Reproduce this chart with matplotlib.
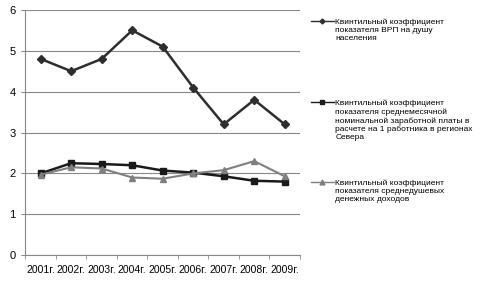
import matplotlib
matplotlib.use('Agg')
import matplotlib.pyplot as plt
from matplotlib.lines import Line2D
from matplotlib.legend_handler import HandlerLine2D

plt.rcParams['font.family'] = ['Liberation Sans Narrow', 'Liberation Sans', 'DejaVu Sans']

years = ['2001г.', '2002г.', '2003г.', '2004г.', '2005г.', '2006г.', '2007г.', '2008г.', '2009г.']
vrp = [4.8, 4.5, 4.8, 5.5, 5.1, 4.1, 3.2, 3.8, 3.2]
zarplata = [2.0, 2.25, 2.23, 2.2, 2.07, 2.02, 1.93, 1.82, 1.8]
dohody = [1.97, 2.15, 2.12, 1.9, 1.87, 2.0, 2.08, 2.3, 1.93]

labels = ['Квинтильный коэффициент\nпоказателя ВРП на душу\nнаселения',
          'Квинтильный коэффициент\nпоказателя среднемесячной\nноминальной заработной платы в\nрасчете на 1 работника в регионах\nСевера',
          'Квинтильный коэффициент\nпоказателя среднедушевых\nденежных доходов']


class TopHandler(HandlerLine2D):
    # put the legend line next to the first text line, not the middle
    def __init__(self, shift, **kw):
        super().__init__(**kw)
        self.shift = shift

    def create_artists(self, legend, orig_handle, xdescent, ydescent,
                       width, height, fontsize, trans):
        return super().create_artists(legend, orig_handle, xdescent,
                                      ydescent - self.shift, width, height,
                                      fontsize, trans)


fig = plt.figure(figsize=(4.8, 2.9), dpi=100)
ax = fig.add_axes([0.053, 0.12, 0.572, 0.846])

x = list(range(len(years)))
styles = [
    dict(color='#2e2e2e', marker='D', markersize=4, lw=1.8),
    dict(color='#1a1a1a', marker='s', markersize=5, lw=1.8),
    dict(color='#7f7f7f', marker='^', markersize=5, lw=1.5),
]
series = [vrp, zarplata, dohody]
for vals, st in zip(series, styles):
    ax.plot(x, vals, **st, zorder=3)

ax.set_xlim(-0.5, len(years) - 0.5)
ax.set_ylim(0, 6)
ax.set_yticks(range(7))
ax.set_xticks(x)
ax.set_xticklabels(years, fontsize=7.5)
ax.tick_params(axis='x', length=0, pad=7)
ax.set_xticks([i - 0.5 for i in range(len(years) + 1)], minor=True)
ax.tick_params(axis='x', which='minor', length=3, color='#888888')
ax.tick_params(axis='y', labelsize=8, length=3, color='#888888', pad=4)
ax.grid(axis='y', color='#888888', lw=0.8)
for s in ['top', 'right']:
    ax.spines[s].set_visible(False)
ax.spines['left'].set_color('#888888')
ax.spines['bottom'].set_color('#888888')

fs = 6.0
tops = [0.935, 0.655, 0.38]
for lab, st, top in zip(labels, styles, tops):
    nlines = lab.count('\n') + 1
    h = Line2D([], [], color=st['color'], marker=st['marker'],
               markersize=st['markersize'] - 1.5, lw=1.0)
    fig.legend([h], [lab], loc='upper left', bbox_to_anchor=(0.648, top),
               frameon=False, fontsize=fs, handlelength=2.7, handletextpad=0.2,
               borderpad=0, borderaxespad=0,
               handler_map={h: TopHandler((nlines - 1) * fs * 1.1)})

fig.savefig('out.png', dpi=100)
